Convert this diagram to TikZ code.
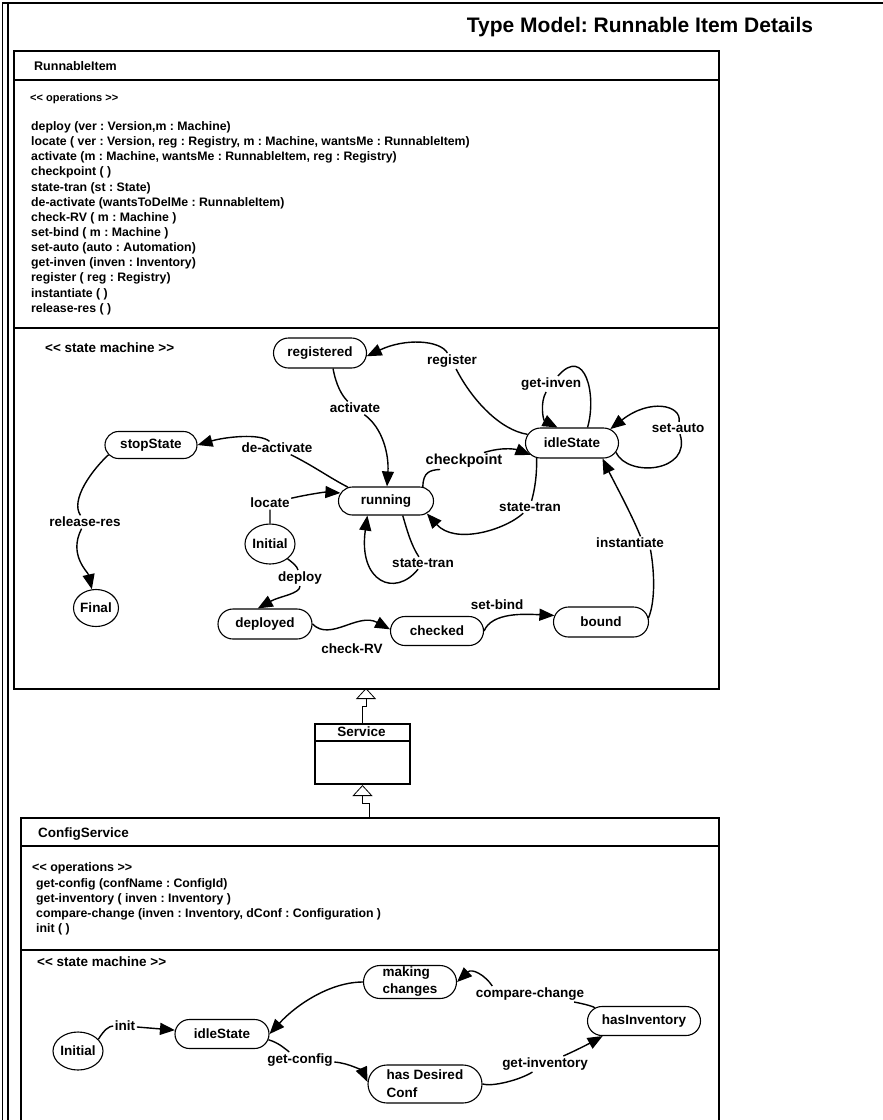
\documentclass[tikz,border=0pt]{standalone}
\usepackage{fontspec}
\setmainfont{Liberation Sans}
\frenchspacing
\newcommand\stlt{<\kern0pt<}
\newcommand\stgt{>\kern0pt>}
\usetikzlibrary{arrows.meta,shapes.misc,shapes.geometric}
\begin{document}
\begin{tikzpicture}[x=1pt,y=-1pt,
  stt/.style={rounded rectangle, draw, line width=1.1pt, inner xsep=1pt, inner ysep=1pt,
    font=\fontsize{13.5}{17}\selectfont\bfseries},
  ini/.style={ellipse, draw, line width=1.1pt, inner sep=0pt,
    font=\fontsize{13.5}{16}\selectfont\bfseries},
  lbl/.style={fill=white, inner sep=1.5pt, font=\fontsize{13.5}{16}\selectfont\bfseries},
  trn/.style={line width=1.4pt, -{Triangle[length=15pt,width=12pt]}},
  opl/.style={anchor=base west, inner sep=0pt, font=\fontsize{12.3}{14}\selectfont\bfseries},
  hd/.style={anchor=base west, inner sep=0pt, font=\fontsize{13.5}{16}\selectfont\bfseries},
  gen/.style={line width=0.8pt, -{Triangle[open,length=11pt,width=20pt]}},
  box/.style={draw, line width=2pt, inner sep=0pt, anchor=north west},
  dv/.style={line width=1.4pt}
]
\useasboundingbox (0,0) rectangle (883,1120);
\fill[white] (0,0) rectangle (883,1120);
% outer frame
\draw[line width=1.5pt] (2.5,1130) -- (2.5,3) -- (890,3);
\draw[line width=1.1pt] (8,1130) -- (8,3);
% title
\node[font=\fontsize{21}{24}\selectfont\bfseries] (title) at (640,27) {Type Model: Runnable Item Details};

% ===== RunnableItem =====
\node[box, minimum width=705pt, minimum height=638pt] (ri) at (13,50) {};
\draw[dv] (13,80) -- (718,80);
\draw[dv] (13,328) -- (718,328);
\node[hd, font=\fontsize{12.5}{15}\selectfont\bfseries] (rih) at (34,70) {RunnableItem};
\node[hd, font=\fontsize{11}{13}\selectfont\bfseries] (riop) at (30,101) {\stlt{} operations \stgt};
\foreach \t [count=\i] in {{deploy (ver : Version,m : Machine)},
  {locate ( ver : Version, reg : Registry, m : Machine, wantsMe : RunnableItem)},
  {activate (m : Machine, wantsMe : RunnableItem, reg : Registry)},
  {checkpoint ( )},
  {state-tran (st : State)},
  {de-activate (wantsToDelMe : RunnableItem)},
  {check-RV ( m : Machine )},
  {set-bind ( m : Machine )},
  {set-auto (auto : Automation)},
  {get-inven (inven : Inventory)},
  {register ( reg : Registry)},
  {instantiate ( )},
  {release-res ( )}}
  \node[opl] (riops\i) at (31,{130.4+15.15*(\i-1)}) {\t};
\node[hd] (rism) at (45,352.5) {\stlt{} state machine \stgt};

% states
\node[stt, minimum width=95pt, minimum height=30pt] (registered) at (320,353) {registered};
\node[stt, minimum width=94pt, minimum height=27pt] (stop) at (151,445) {stopState};
\node[stt, minimum width=97pt, minimum height=28pt] (running) at (386,501) {running};
\node[stt, minimum width=95pt, minimum height=30pt] (idle) at (572,443) {idleState};
\node[ini, minimum width=50pt, minimum height=40pt] (initA) at (270,544) {Initial};
\node[ini, minimum width=45pt, minimum height=37pt] (final) at (96,608) {Final};
\node[stt, minimum width=96pt, minimum height=30pt] (deployed) at (265,624) {deployed};
\node[stt, minimum width=95pt, minimum height=29pt] (checked) at (437,631) {checked};
\node[stt, minimum width=97pt, minimum height=30pt] (bound) at (601,622) {bound};

% labels
\node[lbl] (lreg) at (452,361) {register};
\node[lbl] (lact) at (355,408) {activate};
\node[lbl] (ldeact) at (277,448) {de-activate};
\node[lbl] (lloc) at (270,503) {locate};
\node[lbl] (lrel) at (85,522) {release-res};
\node[lbl] (lginv) at (551,384) {get-inven};
\node[lbl] (lsauto) at (678,428) {set-auto};
\node[lbl, font=\fontsize{14.5}{17}\selectfont\bfseries] (lchk) at (464,461) {checkpoint};
\node[lbl] (lstr) at (530,507) {state-tran};
\node[lbl] (lstl) at (423,563) {state-tran};
\node[lbl] (ldep) at (300,578) {deploy};
\node[lbl] (lcrv) at (352,649) {check-RV};
\node[lbl] (lsb) at (497,605) {set-bind};
\node[lbl] (linst) at (630,543) {instantiate};

% transitions
\draw[trn] (idle.169) .. controls (500,430) and (472,400) .. (lreg)
  .. controls (440,340) and (405,338) .. (registered.-4);
\draw[trn] (registered.-50) .. controls (336,385) and (342,396) .. (lact)
  .. controls (383,428) and (389,455) .. (running.86);
\draw[trn] (running.160) .. controls (330,478) and (312,465) .. (ldeact)
  .. controls (260,433) and (225,437) .. (stop.east);
\draw[trn] (initA) -- (lloc) .. controls (310,494) and (325,492) .. (running.170);
\draw[trn] (stop.193) .. controls (92,470) and (70,500) .. (lrel)
  .. controls (68,555) and (88,572) .. (final);
\draw[trn] (idle.45) .. controls (597,395) and (585,345) .. (lginv)
  .. controls (540,402) and (543,420) .. (idle.133);
\draw[trn] (idle.-12) .. controls (628,478) and (692,472) .. (lsauto)
  .. controls (682,405) and (650,398) .. (idle.20);
\draw[line width=1.4pt] (running.21) .. controls (423,472) and (430,470) .. ([xshift=16pt]lchk.south west);
\draw[trn] ([xshift=-20pt]lchk.north east) .. controls (505,446) and (518,450) .. (idle.196);
\draw[trn] (idle.-157) .. controls (537,475) and (535,488) .. (lstr)
  .. controls (505,530) and (455,545) .. (running.-17);
\draw[trn] (running.-41) .. controls (407,530) and (411,545) .. (lstl)
  .. controls (395,598) and (358,582) .. (running.218);
\draw[trn] (initA.-40) .. controls (293,563) and (297,566) .. (ldep)
  .. controls (300,594) and (280,596) .. (deployed.115);
\draw[trn] (deployed.east) .. controls (330,642) and (358,612) .. (checked.178);
\draw[trn] (checked.east) .. controls (492,612) and (525,614) .. (bound.172);
\draw[line width=1.4pt] (bound.5) .. controls (656,600) and (654,568) .. ([xshift=-15pt]linst.south east);
\draw[trn] ([xshift=-25pt]linst.north east) .. controls (632,515) and (612,478) .. (idle.-27);

% ===== Service =====
\node[box, minimum width=95pt, minimum height=60pt] (sv) at (314,723) {};
\draw[line width=1.2pt] ([yshift=-18pt]sv.north west) -- ([yshift=-18pt]sv.north east);
\node[font=\fontsize{13.5}{16}\selectfont\bfseries] (svt) at (361.5,732) {Service};
\coordinate (riB) at (366,688);
\draw[gen] (sv.north) -- ++(0,-17) -| (riB);

% ===== ConfigService =====
\node[box, minimum width=698pt, minimum height=330pt] (cs) at (20,817) {};
\coordinate (csT) at (369,817);
\draw[gen] (csT) -- ++(0,-14) -| (sv.south);
\draw[dv] (20,846) -- (718,846);
\draw[dv] (20,950) -- (718,950);
\node[hd] (csh) at (38,837) {ConfigService};
\node[hd, font=\fontsize{12.5}{15}\selectfont\bfseries] (csop) at (32,871.5) {\stlt{} operations \stgt};
\foreach \t [count=\i] in {{get-config (confName : ConfigId)},
  {get-inventory ( inven : Inventory )},
  {compare-change (inven : Inventory, dConf : Configuration )},
  {init ( )}}
  \node[opl] (csops\i) at (36,{887.4+15*(\i-1)}) {\t};
\node[hd] (cssm) at (37,966.5) {\stlt{} state machine \stgt};

\node[ini, minimum width=50pt, minimum height=38pt] (initB) at (78,1051) {Initial};
\node[stt, minimum width=96pt, minimum height=29pt] (idleB) at (222,1034) {idleState};
\node[stt, minimum width=95pt, minimum height=33pt, align=left] (making) at (410,982) {making\\changes};
\node[stt, minimum width=96pt, minimum height=38pt, inner xsep=-9pt, align=left,
  font=\fontsize{13.5}{18}\selectfont\bfseries] (hdc) at (425,1084) {has Desired\\Conf};
\node[stt, minimum width=92pt, minimum height=29pt, inner xsep=-10.5pt] (hasinv) at (644,1021) {hasInventory};

\node[lbl] (linit) at (125,1026) {init};
\node[lbl] (lgconf) at (300,1060) {get-config};
\node[lbl] (lcc) at (530,994) {compare-change};
\node[lbl] (lginv2) at (545,1064) {get-inventory};

\draw[trn] (initB.30) .. controls (104,1030) and (109,1026) .. (linit) -- (idleB);
\draw[trn] (making.west) .. controls (330,982) and (296,1005) .. (idleB.east);
\draw[trn] (idleB.-7) .. controls (279,1043) and (284,1048) .. (lgconf)
  .. controls (350,1063) and (363,1072) .. (hdc.178);
\draw[trn] (hdc.east) .. controls (492,1087) and (520,1080) .. (lginv2)
  .. controls (577,1050) and (592,1042) .. (hasinv.-160);
\draw[line width=1.4pt] (hasinv.165) .. controls (595,1007) and (585,1004) .. (lcc);
\draw[trn] ([xshift=18pt]lcc.north west) .. controls (485,975) and (472,968) .. (making.east);
\end{tikzpicture}
\end{document}
